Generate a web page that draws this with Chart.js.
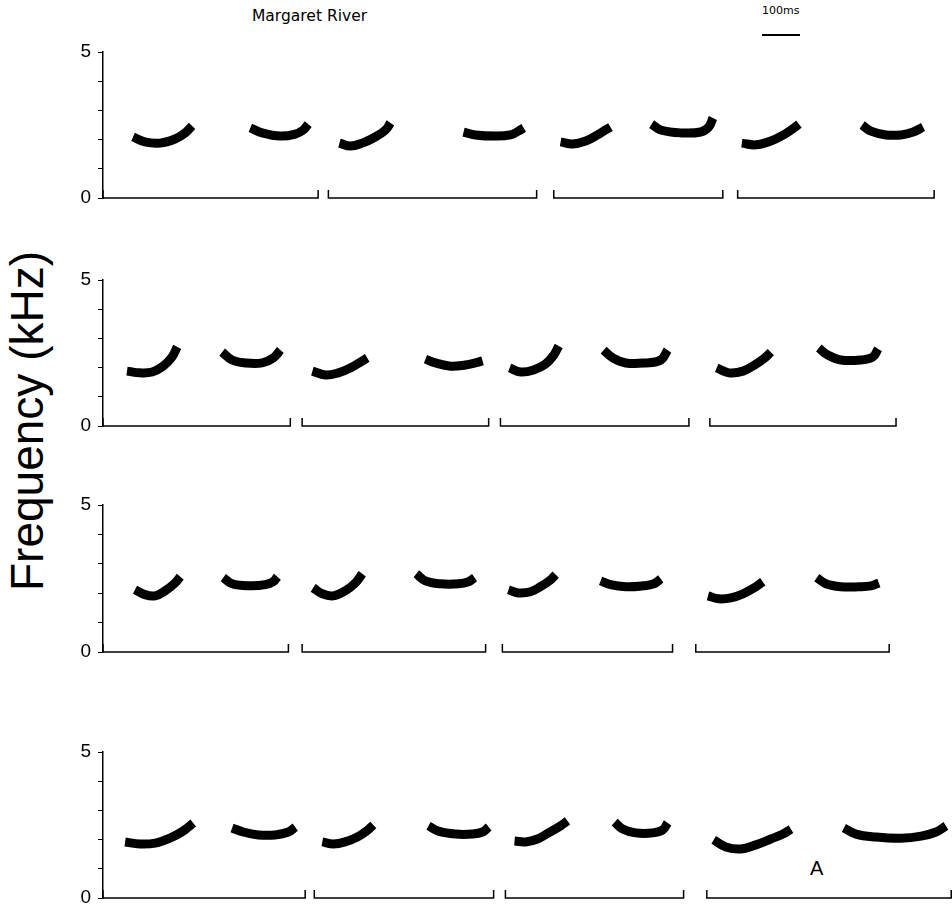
<!DOCTYPE html>
<html>
<head>
<meta charset="utf-8">
<script src="https://cdn.jsdelivr.net/npm/chart.js@4/dist/chart.umd.min.js"></script>
<style>
	body { margin: 0; background: #fff; width: 952px; height: 907px; overflow: hidden; position: relative; }
	canvas { position: absolute; left: 60px; }
	.txt { position: absolute; color: #000; white-space: nowrap; }
	#title { left: 252px; top: 7px; font: 15.5px 'DejaVu Sans', sans-serif; }
	#scale { left: 762px; top: 4px; font: 11px 'DejaVu Sans', sans-serif; }
	#scaleBar { position: absolute; left: 762px; top: 34px; width: 38px; height: 0; border-top: 2px solid #000; }
	#ylabel { left: 27px; top: 421px; font: 46px 'Liberation Sans', sans-serif; transform: translate(-50%, -50%) rotate(-90deg); line-height: 1; }
	#mark { left: 810px; top: 857px; font: 20px 'Liberation Sans', sans-serif; }
</style>
</head>
<body>
<div class="txt" id="title">Margaret River</div>
<div class="txt" id="scale">100ms</div>
<div id="scaleBar"></div>
<div class="txt" id="ylabel">Frequency (kHz)</div>
<div class="txt" id="mark">A</div>

<canvas id="row1" width="892" height="186" style="top:32px"></canvas>
<canvas id="row2" width="892" height="186" style="top:260px"></canvas>
<canvas id="row3" width="892" height="187" style="top:485px"></canvas>
<canvas id="row4" width="892" height="186" style="top:732px"></canvas>

<script>
// time in ms, frequency in kHz
const yTicks = [0, 1, 2, 3, 4, 5];
const yLabels = ['0', '5'];
const timeMax = 2230;

// each note: [ms, kHz] pairs along the middle of the trace
const row1Notes = [
	[[79, 2.09], [110, 1.92], [150, 1.88], [189, 2.02], [216, 2.23], [234, 2.47]],
	[[387, 2.40], [418, 2.23], [466, 2.12], [505, 2.19], [526, 2.33], [539, 2.53]],
	[[621, 1.88], [650, 1.78], [681, 1.88], [715, 2.09], [742, 2.33], [755, 2.57]],
	[[947, 2.26], [978, 2.16], [1031, 2.12], [1070, 2.16], [1091, 2.29], [1105, 2.40]],
	[[1202, 1.92], [1233, 1.85], [1268, 1.95], [1299, 2.16], [1320, 2.33], [1333, 2.43]],
	[[1441, 2.53], [1465, 2.33], [1518, 2.23], [1570, 2.26], [1591, 2.43], [1602, 2.74]],
	[[1678, 1.88], [1715, 1.82], [1754, 1.95], [1791, 2.19], [1815, 2.40], [1828, 2.53]],
	[[1994, 2.50], [2017, 2.29], [2057, 2.16], [2096, 2.16], [2128, 2.26], [2154, 2.43]]
];
const row1Phrases = [[0, 565], [592, 1139], [1184, 1628], [1667, 2183]];

const row2Notes = [
	[[63, 1.88], [97, 1.82], [129, 1.85], [158, 2.05], [181, 2.36], [195, 2.71]],
	[[313, 2.53], [339, 2.26], [373, 2.16], [418, 2.16], [447, 2.33], [466, 2.60]],
	[[550, 1.88], [584, 1.75], [618, 1.82], [650, 1.99], [676, 2.19], [694, 2.33]],
	[[847, 2.29], [873, 2.16], [913, 2.05], [952, 2.09], [978, 2.16], [997, 2.23]],
	[[1068, 1.99], [1097, 1.85], [1131, 1.92], [1162, 2.12], [1184, 2.43], [1197, 2.74]],
	[[1315, 2.60], [1339, 2.33], [1373, 2.16], [1425, 2.16], [1465, 2.26], [1483, 2.60]],
	[[1612, 1.99], [1644, 1.82], [1681, 1.88], [1715, 2.12], [1738, 2.33], [1754, 2.53]],
	[[1880, 2.67], [1904, 2.43], [1938, 2.26], [1991, 2.26], [2022, 2.36], [2036, 2.64]]
];
const row2Phrases = [[0, 492], [523, 1013], [1044, 1539], [1594, 2083]];

const row3Notes = [
	[[84, 2.12], [110, 1.95], [137, 1.91], [163, 2.08], [187, 2.32], [203, 2.56]],
	[[316, 2.53], [339, 2.32], [387, 2.25], [426, 2.29], [447, 2.39], [458, 2.56]],
	[[552, 2.18], [576, 1.98], [605, 1.91], [636, 2.08], [663, 2.35], [681, 2.66]],
	[[823, 2.66], [847, 2.42], [886, 2.32], [934, 2.32], [960, 2.39], [976, 2.53]],
	[[1065, 2.12], [1091, 2.01], [1123, 2.05], [1149, 2.22], [1176, 2.46], [1189, 2.63]],
	[[1307, 2.42], [1333, 2.29], [1373, 2.22], [1418, 2.25], [1447, 2.32], [1465, 2.49]],
	[[1589, 1.91], [1617, 1.81], [1649, 1.84], [1681, 1.98], [1710, 2.18], [1733, 2.39]],
	[[1875, 2.53], [1899, 2.32], [1938, 2.22], [1986, 2.22], [2017, 2.25], [2038, 2.35]]
];
const row3Phrases = [[0, 487], [523, 1005], [1049, 1496], [1557, 2065]];

const row4Notes = [
	[[58, 1.92], [97, 1.85], [137, 1.88], [176, 2.05], [210, 2.29], [237, 2.57]],
	[[339, 2.40], [368, 2.26], [408, 2.16], [452, 2.16], [487, 2.26], [505, 2.43]],
	[[576, 1.92], [605, 1.85], [636, 1.92], [668, 2.09], [692, 2.29], [710, 2.50]],
	[[855, 2.47], [881, 2.29], [926, 2.19], [970, 2.19], [997, 2.26], [1013, 2.43]],
	[[1081, 1.95], [1110, 1.92], [1141, 2.02], [1170, 2.23], [1202, 2.47], [1220, 2.64]],
	[[1344, 2.60], [1365, 2.36], [1399, 2.23], [1444, 2.23], [1470, 2.33], [1483, 2.57]],
	[[1604, 1.99], [1636, 1.75], [1675, 1.68], [1715, 1.82], [1754, 2.02], [1786, 2.19], [1807, 2.36]],
	[[1946, 2.40], [1978, 2.19], [2030, 2.09], [2096, 2.05], [2149, 2.12], [2188, 2.26], [2214, 2.47]]
];
const row4Phrases = [[0, 531], [555, 1026], [1057, 1525], [1586, 2228]];

const phraseTick = 0.27; // kHz height of the bracket ends

function makeRow(id, notes, phrases) {
	let datasets = [];

	for (let note of notes) {
		datasets.push({
			data: note.map(p => ({ x: p[0], y: p[1] })),
			borderColor: '#000',
			borderWidth: 9,
			borderJoinStyle: 'round',
			tension: 0.4,
			pointRadius: 0,
			clip: false
		});
	}

	for (let ph of phrases) {
		datasets.push({
			data: [
				{ x: ph[0], y: phraseTick },
				{ x: ph[0], y: 0 },
				{ x: ph[1], y: 0 },
				{ x: ph[1], y: phraseTick }
			],
			borderColor: '#000',
			borderWidth: 1.5,
			tension: 0,
			pointRadius: 0,
			clip: false
		});
	}

	new Chart(document.getElementById(id), {
		type: 'line',
		data: { datasets: datasets },
		options: {
			responsive: false,
			animation: false,
			layout: { padding: { top: 20, bottom: 20, left: 0, right: 0 } },
			plugins: { legend: { display: false }, tooltip: { enabled: false } },
			scales: {
				x: {
					type: 'linear',
					min: 0,
					max: timeMax,
					display: false
				},
				y: {
					type: 'linear',
					min: yTicks[0],
					max: yTicks[yTicks.length - 1],
					afterBuildTicks: (scale) => {
						scale.ticks = yTicks.map(v => ({ value: v }));
					},
					afterFit: (scale) => { scale.width = 43; },
					grid: {
						drawOnChartArea: false,
						drawTicks: true,
						tickLength: 5,
						color: '#000',
						lineWidth: 1
					},
					border: { display: true, color: '#000', width: 1.5 },
					ticks: {
						padding: 7,
						color: '#000',
						font: { family: 'Liberation Sans', size: 19 },
						callback: (v) => yLabels.includes(String(v)) ? String(v) : ''
					}
				}
			}
		}
	});
}

makeRow('row1', row1Notes, row1Phrases);
makeRow('row2', row2Notes, row2Phrases);
makeRow('row3', row3Notes, row3Phrases);
makeRow('row4', row4Notes, row4Phrases);
</script>
</body>
</html>
